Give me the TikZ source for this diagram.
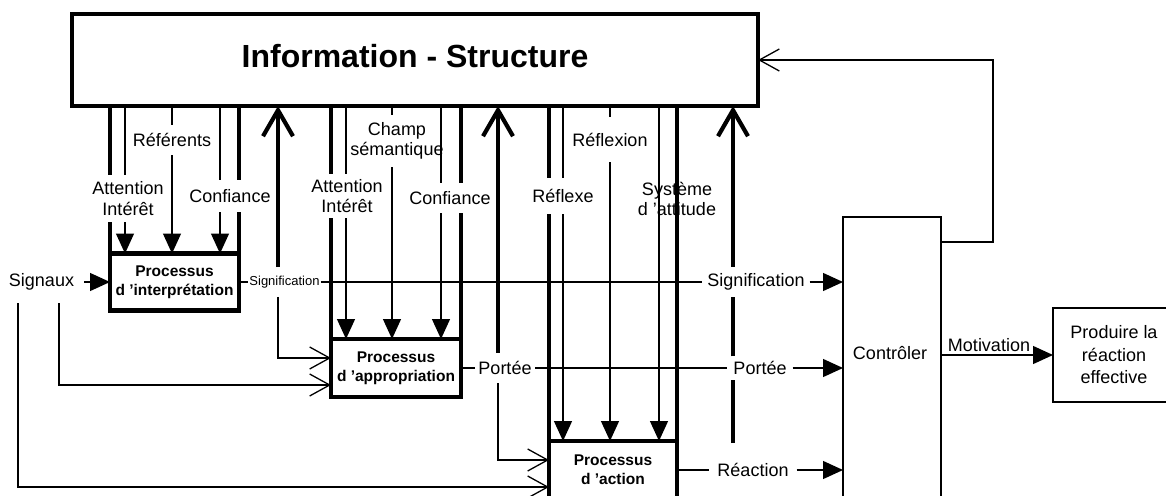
\documentclass[tikz,border=0pt]{standalone}
\usepackage{fontspec}
\setmainfont{Liberation Sans}
\usetikzlibrary{arrows.meta}
\tikzset{
  thinln/.style={line width=1.3pt},
  thickln/.style={line width=4.2pt},
  fillar/.style={-{Triangle[length=20pt,width=18pt]}},
  openar/.style={-{Straight Barb[length=20pt,width=22pt]}},
  upar/.style={thickln,-{Straight Barb[length=26pt,width=30pt]}},
  lbl/.style={font=\fontsize{18}{20.5}\selectfont, align=center, inner sep=0pt},
  proc/.style={draw, thickln, font=\fontsize{15.5}{19}\selectfont\bfseries, align=center, inner sep=0pt, outer sep=0pt},
}
\begin{document}
\begin{tikzpicture}[x=1pt,y=-1pt]
\useasboundingbox (0,0) rectangle (1166,495);
\clip (0,0) rectangle (1166,495);

% main boxes
\node[draw, thickln, minimum width=686pt, minimum height=92pt, inner sep=0pt, outer sep=0pt,
      font=\fontsize{32}{38}\selectfont\bfseries, text depth=8pt] (info) at (415,60) {Information - Structure};
\node[proc, minimum width=129pt, minimum height=57pt] (interp) at (174.5,282) {Processus\\d ’interprétation};
\node[proc, minimum width=130pt, minimum height=58pt] (appr) at (396,368) {Processus\\d ’appropriation};
\node[proc, minimum width=128pt, minimum height=58pt] (action) at (613,470) {Processus\\d ’action};
\node[draw, thinln, minimum width=98pt, minimum height=303pt, inner sep=0pt, outer sep=0pt] (ctrl) at (892,368.5) {};
\node[lbl] (ctrltxt) at (890,353) {Contrôler};
\node[draw, thinln, minimum width=122pt, minimum height=94pt, outer sep=0pt, lbl,
      font=\fontsize{18}{22.5}\selectfont] (prod) at (1114,355) {Produire la\\réaction\\effective};

% labels on the vertical flows
\node[lbl, minimum height=47pt] (att1) at (128,198.5) {Attention\\Intérêt};
\node[lbl, minimum height=30pt] (ref1) at (172,140) {Référents};
\node[lbl, minimum height=32pt] (conf1) at (230,196) {Confiance};
\node[lbl, minimum height=44pt] (att2) at (347,196) {Attention\\Intérêt};
\node[lbl, minimum height=52pt] (champ) at (397,141) {Champ\\sémantique};
\node[lbl, minimum height=30pt] (conf2) at (450,198) {Confiance};
\node[lbl, minimum height=36pt] (refl) at (563,196) {Réflexe};
\node[lbl, minimum height=45pt] (reflx) at (610,139.5) {Réflexion};

% labels on the horizontal flows
\node[font=\fontsize{13}{15}\selectfont, inner xsep=1pt, inner ysep=8.5pt] (sig1) at (284.5,282) {Signification};
\node[lbl, inner xsep=5pt, minimum height=30pt] (sig2) at (756,282) {Signification};
\node[lbl, inner xsep=3.5pt, minimum height=30pt] (por1) at (505,368) {Portée};
\node[lbl, inner xsep=6pt, minimum height=23pt] (por2) at (760,368) {Portée};
\node[lbl, inner xsep=8pt] (rea) at (753,470) {Réaction};
\node[lbl, inner xsep=10pt, minimum height=42pt] (sgn) at (41.5,282) {Signaux};
\node[lbl, anchor=south] (mot) at (989,352) {Motivation};

% x positions of the vertical flows
\coordinate (ia) at (125,0);
\coordinate (ib) at (172,0);
\coordinate (ic) at (220,0);
\coordinate (aa) at (346,0);
\coordinate (ab) at (392,0);
\coordinate (ac) at (441,0);
\coordinate (xa) at (563,0);
\coordinate (xb) at (610,0);
\coordinate (xc) at (659,0);
\coordinate (u1) at (278,0);
\coordinate (u2) at (498,0);
\coordinate (u3s) at (733,443);
\coordinate (s1) at (18,0);
\coordinate (s2) at (59,0);
\coordinate (fb) at (993,60);

% interpretation block
\draw[thickln] (info.south -| interp.west) -- (att1.north -| interp.west);
\draw[thickln] (att1.south -| interp.west) -- (interp.north west);
\draw[thickln] (info.south -| interp.east) -- (conf1.north -| interp.east);
\draw[thickln] (conf1.south -| interp.east) -- (interp.north east);
\draw[thinln] (info.south -| ia) -- (att1.north -| ia);
\draw[thinln, fillar] (att1.south -| ia) -- (interp.north -| ia);
\draw[thinln] (info.south -| ib) -- (ref1.north -| ib);
\draw[thinln, fillar] (ref1.south -| ib) -- (interp.north -| ib);
\draw[thinln] (info.south -| ic) -- (conf1.north -| ic);
\draw[thinln, fillar] (conf1.south -| ic) -- (interp.north -| ic);

% appropriation block
\draw[thickln] (info.south -| appr.west) -- (att2.north -| appr.west);
\draw[thickln] (att2.south -| appr.west) -- (appr.north west);
\draw[thickln] (info.south -| appr.east) -- (conf2.north -| appr.east);
\draw[thickln] (conf2.south -| appr.east) -- (appr.north east);
\draw[thinln] (info.south -| aa) -- (att2.north -| aa);
\draw[thinln, fillar] (att2.south -| aa) -- (appr.north -| aa);
\draw[thinln] (info.south -| ab) -- (champ.north -| ab);
\draw[thinln, fillar] (champ.south -| ab) -- (appr.north -| ab);
\draw[thinln] (info.south -| ac) -- (conf2.north -| ac);
\draw[thinln, fillar] (conf2.south -| ac) -- (appr.north -| ac);

% action block
\draw[thickln] (info.south -| action.west) -- (refl.north -| action.west);
\draw[thickln] (refl.south -| action.west) -- (action.north west);
\draw[thickln] (info.south -| action.east) -- (action.north east);
\draw[thinln] (info.south -| xa) -- (refl.north -| xa);
\draw[thinln, fillar] (refl.south -| xa) -- (action.north -| xa);
\draw[thinln] (info.south -| xb) -- (reflx.north -| xb);
\draw[thinln, fillar] (reflx.south -| xb) -- (action.north -| xb);
\draw[thinln, fillar] (info.south -| xc) -- (action.north -| xc);
\node[lbl] (syst) at (677,199) {Système\\d ’attitude};

% feedback arrows to Information - Structure
\draw[upar] (sig1.north -| u1) -- (info.south -| u1);
\draw[upar] (por1.north -| u2) -- (info.south -| u2);
\draw[thickln] (u3s) -- (por2.south -| u3s);
\draw[thickln] (por2.north -| u3s) -- (sig2.south -| u3s);
\draw[upar] (sig2.north -| u3s) -- (info.south -| u3s);

% horizontal flows
\draw[thinln, fillar] (sgn.east) -- (interp.west);
\draw[thinln] (interp.east) -- (sig1.west);
\draw[thinln] (sig1.east) -- (sig2.west);
\draw[thinln, fillar] (sig2.east) -- (ctrl.west |- sig2);
\draw[thinln] (appr.east) -- (por1.west);
\draw[thinln] (por1.east) -- (por2.west);
\draw[thinln, fillar] (por2.east) -- (ctrl.west |- por2);
\draw[thinln] (action.east) -- (rea.west);
\draw[thinln, fillar] (rea.east) -- (ctrl.west |- rea);

% branches to the next processes
\draw[thinln, openar] (sig1.south -| u1) |- ([yshift=10pt]appr.west);
\draw[thinln, openar] (por1.south -| u2) |- ([yshift=10pt]action.west);
\draw[thinln, openar] (sgn.south -| s2) |- ([yshift=-17pt]appr.west);
\draw[thinln, openar] (sgn.south -| s1) |- ([yshift=-17pt]action.west);

% controller outputs
\draw[thinln, fillar] (ctrl.east |- prod.west) -- (prod.west);
\draw[thinln, openar] ([yshift=-25pt]ctrl.north east) -| (fb) -- (info.east);
\end{tikzpicture}
\end{document}
